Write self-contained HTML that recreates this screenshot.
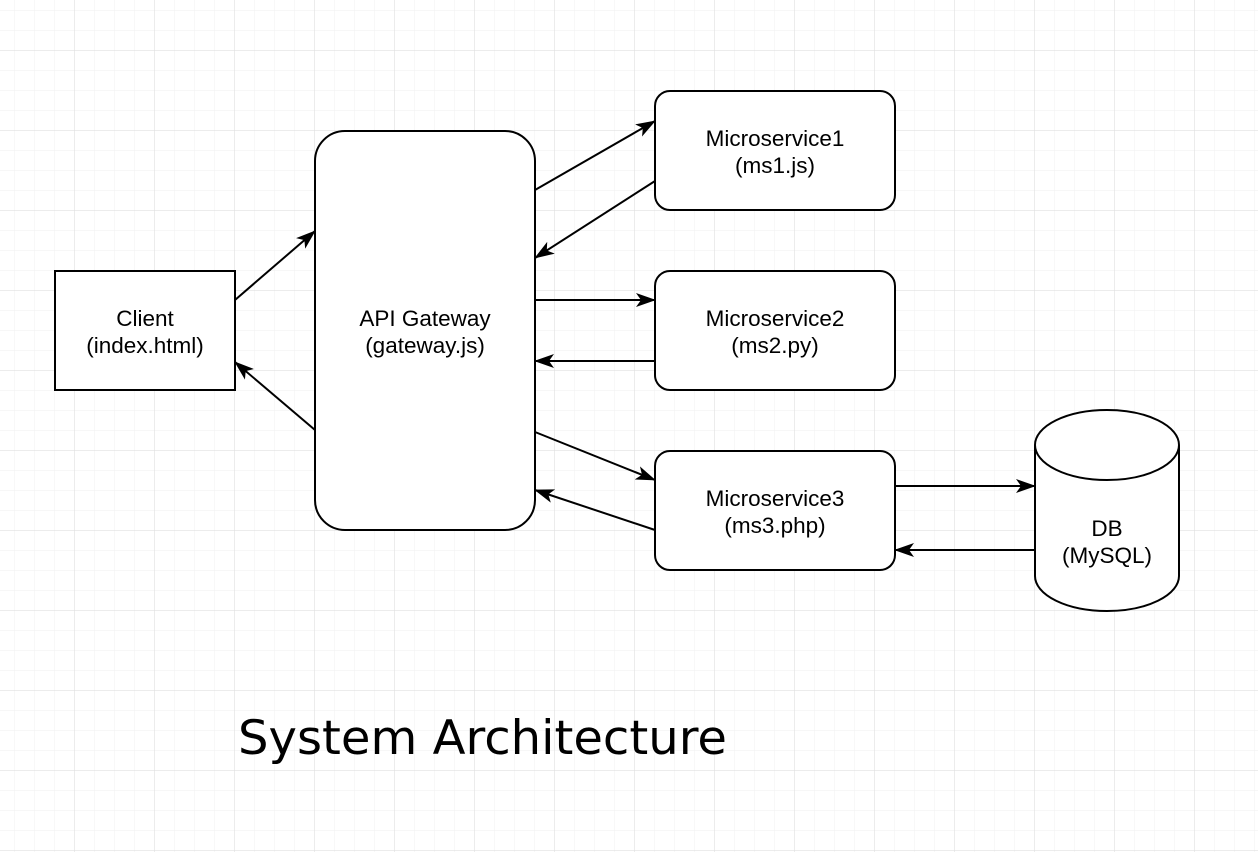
<!DOCTYPE html>
<html><head><meta charset="utf-8"><style>
html,body{margin:0;padding:0;background:#fff;}
svg{display:block;}
text{font-family:"Liberation Sans",Helvetica,Arial,sans-serif;}
</style></head><body>
<svg width="1258" height="852" viewBox="0 0 1258 852" xmlns="http://www.w3.org/2000/svg">
<defs>
<pattern id="minor" x="14" y="10" width="20" height="20" patternUnits="userSpaceOnUse">
<path d="M0 0V20M0 0H20" stroke="#f2f2f2" stroke-width="1.2" fill="none"/>
</pattern>
<pattern id="major" x="74" y="50" width="80" height="80" patternUnits="userSpaceOnUse">
<path d="M0 0V80M0 0H80" stroke="#dcdcdc" stroke-width="1" fill="none"/>
</pattern>
<marker id="a" viewBox="0 0 20 14" refX="19" refY="7" markerWidth="20" markerHeight="14" markerUnits="userSpaceOnUse" orient="auto">
<path d="M0 0L20 7L0 14L5 7Z" fill="#000"/>
</marker>
</defs>
<rect width="1258" height="852" fill="#fff"/>
<rect width="1258" height="852" fill="url(#minor)"/>
<rect width="1258" height="852" fill="url(#major)"/>
<g stroke="#000" stroke-width="2" fill="none" marker-end="url(#a)">
<line x1="235" y1="300" x2="315" y2="231"/>
<line x1="315" y1="430" x2="235" y2="362"/>
<line x1="535" y1="190" x2="655" y2="121"/>
<line x1="655" y1="181" x2="535" y2="258"/>
<line x1="535" y1="300" x2="655" y2="300"/>
<line x1="655" y1="361" x2="535" y2="361"/>
<line x1="535" y1="432" x2="655" y2="480"/>
<line x1="655" y1="530" x2="535" y2="490"/>
<line x1="895" y1="486" x2="1035" y2="486"/>
<line x1="1035" y1="550" x2="895" y2="550"/>
</g>
<g stroke="#000" stroke-width="2" fill="#fff">
<rect x="55" y="271" width="180" height="119"/>
<rect x="315" y="131" width="220" height="399" rx="30"/>
<rect x="655" y="91" width="240" height="119" rx="15"/>
<rect x="655" y="271" width="240" height="119" rx="15"/>
<rect x="655" y="451" width="240" height="119" rx="15"/>
<path d="M1035 445V576A72 35 0 0 0 1179 576V445A72 35 0 0 0 1035 445Z"/>
<path d="M1035 445A72 35 0 0 0 1179 445" fill="none"/>
</g>
<g font-size="22.5" text-anchor="middle" fill="#000">
<text x="145" y="326">Client</text><text x="145" y="353">(index.html)</text>
<text x="425" y="326">API Gateway</text><text x="425" y="353">(gateway.js)</text>
<text x="775" y="146">Microservice1</text><text x="775" y="173">(ms1.js)</text>
<text x="775" y="326">Microservice2</text><text x="775" y="353">(ms2.py)</text>
<text x="775" y="506">Microservice3</text><text x="775" y="533">(ms3.php)</text>
<text x="1107" y="536">DB</text><text x="1107" y="563">(MySQL)</text>
</g>
<text x="238" y="754" font-size="47" fill="#000" style="font-family:'DejaVu Sans',Verdana,sans-serif" textLength="489" lengthAdjust="spacingAndGlyphs">System Architecture</text>
</svg>
</body></html>
